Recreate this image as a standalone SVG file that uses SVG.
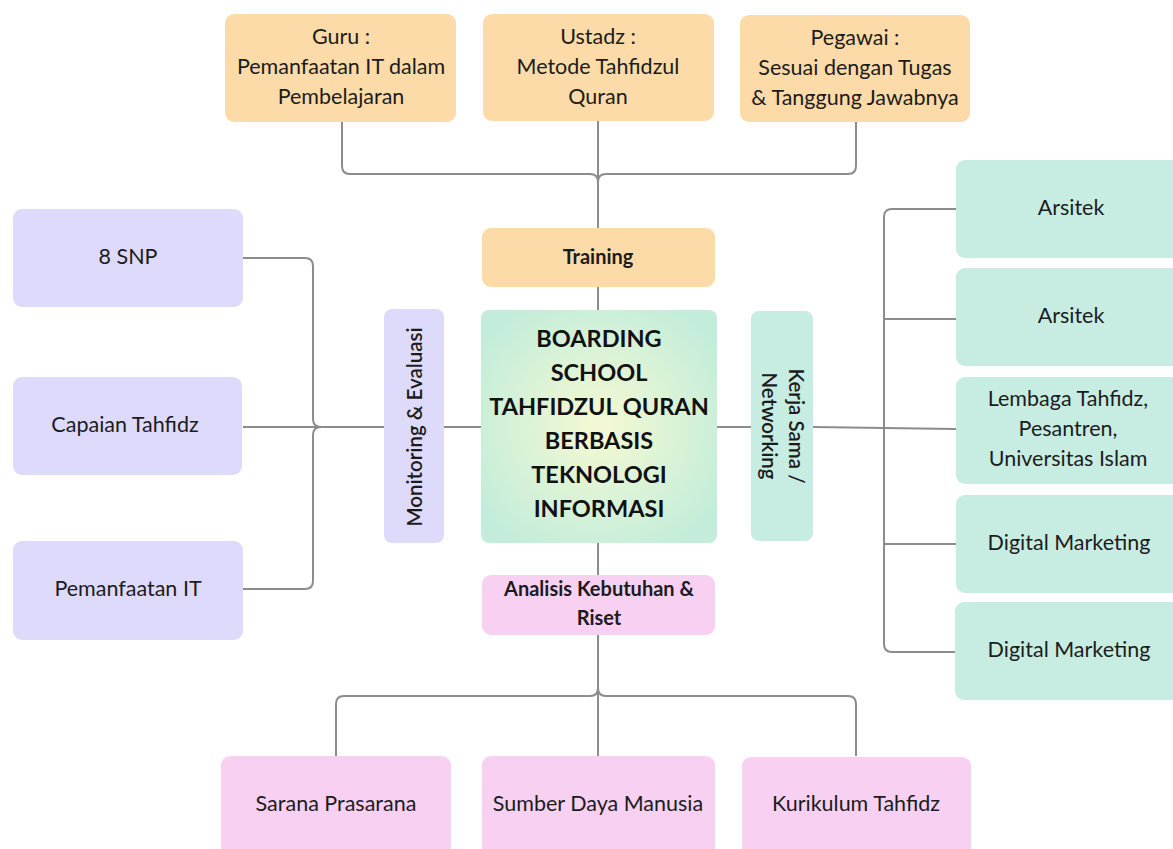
<svg xmlns="http://www.w3.org/2000/svg" width="1173" height="849" viewBox="0 0 1173 849">
<defs>
<radialGradient id="cg" cx="50%" cy="50%" r="60%">
<stop offset="0" stop-color="#F5F9D2"/>
<stop offset="1" stop-color="#C3EDDA"/>
</radialGradient>
<style>
.or{fill:#FCDBA8}
.lv{fill:#DEDAFB}
.mt{fill:#C7ECE2}
.pk{fill:#F8D1F2}
.t{font-family:Lato,"Open Sans","Liberation Sans",sans-serif;font-size:21.5px;fill:#1c1c1c;text-anchor:middle}
.b{font-weight:bold;font-size:20px}
.c{font-family:Lato,"Liberation Sans",sans-serif;font-weight:bold;font-size:23.5px;fill:#111;text-anchor:middle}
.v{font-family:Lato,"Open Sans","Liberation Sans",sans-serif;font-weight:600;font-size:20.5px;fill:#1c1c1c;text-anchor:middle}
.ln{fill:none;stroke:#8c8c8c;stroke-width:2}
</style>
</defs>
<rect width="1173" height="849" fill="#ffffff"/>
<g id="connectors">
<path class="ln" d="M342 122 V166 Q342 174 350 174 H590 Q598 174 598 182"/>
<path class="ln" d="M856 122 V166 Q856 174 848 174 H606 Q598 174 598 182"/>
<path class="ln" d="M598 121 V228"/>
<path class="ln" d="M598 287 V310"/>
<path class="ln" d="M598 543 V575"/>
<path class="ln" d="M598 635 V756"/>
<path class="ln" d="M336 756 V704 Q336 696 344 696 H590 Q598 696 598 688"/>
<path class="ln" d="M856 756 V704 Q856 696 848 696 H606 Q598 696 598 688"/>
<path class="ln" d="M444 427 H481"/>
<path class="ln" d="M243 427 H384"/>
<path class="ln" d="M243 258 H305 Q313 258 313 266 V419 Q313 427 321 427"/>
<path class="ln" d="M243 589 H305 Q313 589 313 581 V435 Q313 427 321 427"/>
<path class="ln" d="M717 427 H751"/>
<path class="ln" d="M813 427 L956 429"/>
<path class="ln" d="M956 209 H892 Q884 209 884 217 V644 Q884 652 892 652 H956"/>
<path class="ln" d="M884 319 H956"/>
<path class="ln" d="M884 544 H956"/>
</g>
<g id="guru">
<rect class="or" x="225" y="14" width="231" height="108" rx="9"/>
<text class="t" x="341" y="44">Guru :</text>
<text class="t" x="341" y="74">Pemanfaatan IT dalam</text>
<text class="t" x="341" y="104">Pembelajaran</text>
</g>
<g id="ustadz">
<rect class="or" x="483" y="14" width="231" height="107" rx="9"/>
<text class="t" x="598" y="44">Ustadz :</text>
<text class="t" x="598" y="74">Metode Tahfidzul</text>
<text class="t" x="598" y="104">Quran</text>
</g>
<g id="pegawai">
<rect class="or" x="740" y="15" width="230" height="107" rx="9"/>
<text class="t" x="855" y="45">Pegawai :</text>
<text class="t" x="855" y="75">Sesuai dengan Tugas</text>
<text class="t" x="855" y="105">&amp; Tanggung Jawabnya</text>
</g>
<g id="training">
<rect class="or" x="482" y="228" width="233" height="59" rx="9"/>
<text class="t b" x="598" y="264">Training</text>
</g>
<g id="center">
<rect fill="url(#cg)" x="481" y="310" width="236" height="233" rx="8"/>
<text class="c" x="599" y="347">BOARDING</text>
<text class="c" x="599" y="381">SCHOOL</text>
<text class="c" x="599" y="415">TAHFIDZUL QURAN</text>
<text class="c" x="599" y="449">BERBASIS</text>
<text class="c" x="599" y="483">TEKNOLOGI</text>
<text class="c" x="599" y="517">INFORMASI</text>
</g>
<g id="monev">
<rect class="lv" x="384" y="309" width="60" height="234" rx="8"/>
<text class="v" transform="translate(422 427) rotate(-90)">Monitoring &amp; Evaluasi</text>
</g>
<g id="kerjasama">
<rect class="mt" x="751" y="311" width="62" height="230" rx="8"/>
<text class="v" transform="translate(789 426) rotate(90)">Kerja Sama /</text>
<text class="v" transform="translate(762 426) rotate(90)">Networking</text>
</g>
<g id="snp">
<rect class="lv" x="13" y="209" width="230" height="98" rx="9"/>
<text class="t" x="128" y="264">8 SNP</text>
</g>
<g id="capaian">
<rect class="lv" x="13" y="377" width="229" height="98" rx="9"/>
<text class="t" x="125" y="432">Capaian Tahfidz</text>
</g>
<g id="pemanfaatan">
<rect class="lv" x="13" y="541" width="230" height="99" rx="9"/>
<text class="t" x="128" y="596">Pemanfaatan IT</text>
</g>
<g id="arsitek1">
<rect class="mt" x="956" y="160" width="230" height="98" rx="9"/>
<text class="t" x="1071" y="215">Arsitek</text>
</g>
<g id="arsitek2">
<rect class="mt" x="956" y="268" width="230" height="98" rx="9"/>
<text class="t" x="1071" y="323">Arsitek</text>
</g>
<g id="lembaga">
<rect class="mt" x="956" y="377" width="230" height="107" rx="9"/>
<text class="t" x="1068" y="406">Lembaga Tahfidz,</text>
<text class="t" x="1068" y="436">Pesantren,</text>
<text class="t" x="1068" y="466">Universitas Islam</text>
</g>
<g id="digital1">
<rect class="mt" x="956" y="495" width="230" height="98" rx="9"/>
<text class="t" x="1069" y="550">Digital Marketing</text>
</g>
<g id="digital2">
<rect class="mt" x="955" y="602" width="230" height="98" rx="9"/>
<text class="t" x="1069" y="657">Digital Marketing</text>
</g>
<g id="analisis">
<rect class="pk" x="482" y="575" width="233" height="60" rx="9"/>
<text class="t b" x="599" y="596">Analisis Kebutuhan &amp;</text>
<text class="t b" x="599" y="625">Riset</text>
</g>
<g id="sarana">
<rect class="pk" x="221" y="756" width="230" height="110" rx="9"/>
<text class="t" x="336" y="811">Sarana Prasarana</text>
</g>
<g id="sdm">
<rect class="pk" x="482" y="756" width="233" height="110" rx="9"/>
<text class="t" x="598" y="811">Sumber Daya Manusia</text>
</g>
<g id="kurikulum">
<rect class="pk" x="742" y="757" width="229" height="110" rx="9"/>
<text class="t" x="856" y="811">Kurikulum Tahfidz</text>
</g>
</svg>
